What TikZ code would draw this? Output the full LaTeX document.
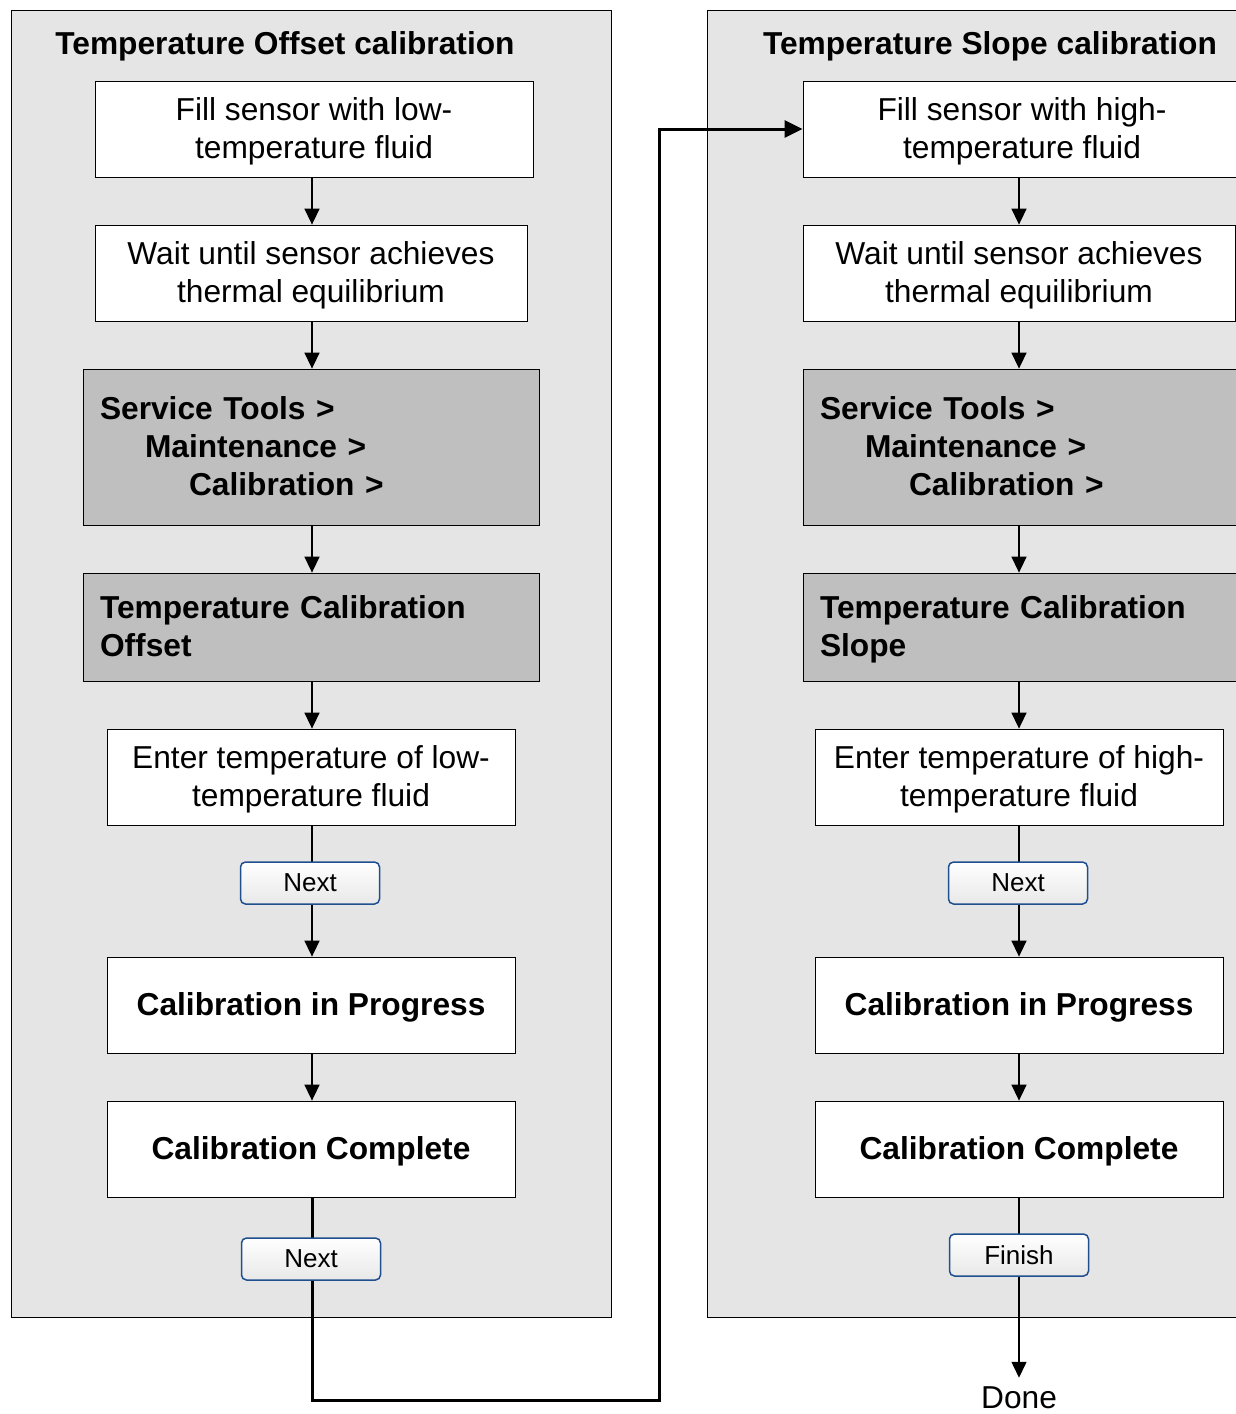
\documentclass[tikz,border=0pt]{standalone}
\usepackage{fontspec}
\setmainfont{Liberation Sans}
\usetikzlibrary{arrows.meta}
\pgfdeclarelayer{back}
\pgfdeclarelayer{lines}
\pgfsetlayers{back,lines,main}
\definecolor{panelgray}{HTML}{E5E5E5}
\definecolor{boxgray}{HTML}{BFBFBF}
\definecolor{btnblue}{HTML}{1F4F8F}
\newcommand\bodyfont{\fontsize{31.7pt}{38pt}\selectfont}
\newcommand\btnfont{\fontsize{26pt}{30pt}\selectfont}
\newcommand\topr{\rule{0pt}{28pt}}
\newcommand\botr{\rule[-8pt]{0pt}{0pt}}
\begin{document}
\begin{tikzpicture}[x=1pt,y=-1pt,
  panel/.style={draw=black, line width=0.8pt, fill=panelgray},
  wbox/.style={draw=black, line width=0.8pt, fill=white, inner sep=0pt, align=center, font=\bodyfont, minimum height=96pt},
  gbox/.style={draw=black, line width=0.8pt, fill=boxgray, inner ysep=0pt, inner xsep=17pt, align=left, text width=422pt, font=\bodyfont\bfseries},
  btn/.style={draw=btnblue, line width=1.5pt, rounded corners=5pt, top color=white, bottom color=black!9, minimum width=139pt, minimum height=42pt, inner sep=0pt, font=\btnfont},
  ttl/.style={font=\bodyfont\bfseries, inner sep=0pt},
  arr/.style={line width=1.5pt, -{Triangle[length=16pt,width=15pt]}},
  bigarr/.style={line width=3pt, -{Triangle[length=18pt,width=17pt]}}
]
\useasboundingbox (0,0) rectangle (1235,1414);
\begin{pgfonlayer}{back}
  \fill[white] (-5,-5) rectangle (1280,1420);
  \draw[panel] (11,10) rectangle (611,1317);
  \draw[panel] (707,10) rectangle (1270,1317);
\end{pgfonlayer}

\coordinate (colL) at (312,0);
\coordinate (colR) at (1019,0);

% left column
\node[ttl] (tl) at (285,46) {Temperature Offset calibration};
\node[wbox, minimum width=438pt] (b1) at (314,129) {\topr Fill sensor with low-\\temperature fluid\botr};
\node[wbox, minimum width=432pt] (b2) at (311,273) {\topr Wait until sensor achieves\\thermal equilibrium\botr};
\node[gbox, minimum height=156pt] (b3) at (311,447) {\topr Service Tools >\\\hspace*{45pt}Maintenance >\\\hspace*{89pt}Calibration >\botr};
\node[gbox, minimum height=108pt] (b4) at (311,627) {\topr Temperature Calibration\\Offset\botr};
\node[wbox, minimum width=408pt] (b5) at (311,777) {\topr Enter temperature of low-\\temperature fluid\botr};
\node[btn] (n1) at (310,883) {Next};
\node[wbox, minimum width=408pt, font=\bodyfont\bfseries] (b6) at (311,1005) {\topr Calibration in Progress\botr};
\node[wbox, minimum width=408pt, font=\bodyfont\bfseries] (b7) at (311,1149) {\topr Calibration Complete\botr};
\node[btn] (n2) at (311,1259) {Next};

% right column
\node[ttl] (tr) at (990,46) {Temperature Slope calibration};
\node[wbox, minimum width=438pt] (c1) at (1022,129) {\topr Fill sensor with high-\\temperature fluid\botr};
\node[wbox, minimum width=432pt] (c2) at (1019,273) {\topr Wait until sensor achieves\\thermal equilibrium\botr};
\node[gbox, minimum height=156pt] (c3) at (1031,447) {\topr Service Tools >\\\hspace*{45pt}Maintenance >\\\hspace*{89pt}Calibration >\botr};
\node[gbox, minimum height=108pt] (c4) at (1031,627) {\topr Temperature Calibration\\Slope\botr};
\node[wbox, minimum width=408pt] (c5) at (1019,777) {\topr Enter temperature of high-\\temperature fluid\botr};
\node[btn] (m1) at (1018,883) {Next};
\node[wbox, minimum width=408pt, font=\bodyfont\bfseries] (c6) at (1019,1005) {\topr Calibration in Progress\botr};
\node[wbox, minimum width=408pt, font=\bodyfont\bfseries] (c7) at (1019,1149) {\topr Calibration Complete\botr};
\node[btn] (fin) at (1019,1255) {Finish};
\node[inner sep=0pt, font=\bodyfont] (done) at (1019,1398) {Done};

\coordinate (k1) at (312,1400);
\coordinate (k2) at (659,1400);
\coordinate (k3) at (659,129);

\begin{pgfonlayer}{lines}
  \draw[arr] (b1.south -| colL) -- (b2.north -| colL);
  \draw[arr] (b2.south -| colL) -- (b3.north -| colL);
  \draw[arr] (b3.south -| colL) -- (b4.north -| colL);
  \draw[arr] (b4.south -| colL) -- (b5.north -| colL);
  \draw[arr] (b5.south -| colL) -- (b6.north -| colL);
  \draw[arr] (b6.south -| colL) -- (b7.north -| colL);
  \draw[bigarr, line join=miter] (b7.south -| colL) -- (k1) -- (k2) -- (k3) -- (c1.west);
  \draw[arr] (c1.south -| colR) -- (c2.north -| colR);
  \draw[arr] (c2.south -| colR) -- (c3.north -| colR);
  \draw[arr] (c3.south -| colR) -- (c4.north -| colR);
  \draw[arr] (c4.south -| colR) -- (c5.north -| colR);
  \draw[arr] (c5.south -| colR) -- (c6.north -| colR);
  \draw[arr] (c6.south -| colR) -- (c7.north -| colR);
  \draw[arr, shorten >=9pt] (c7.south -| colR) -- (done.north);
\end{pgfonlayer}
\end{tikzpicture}
\end{document}
